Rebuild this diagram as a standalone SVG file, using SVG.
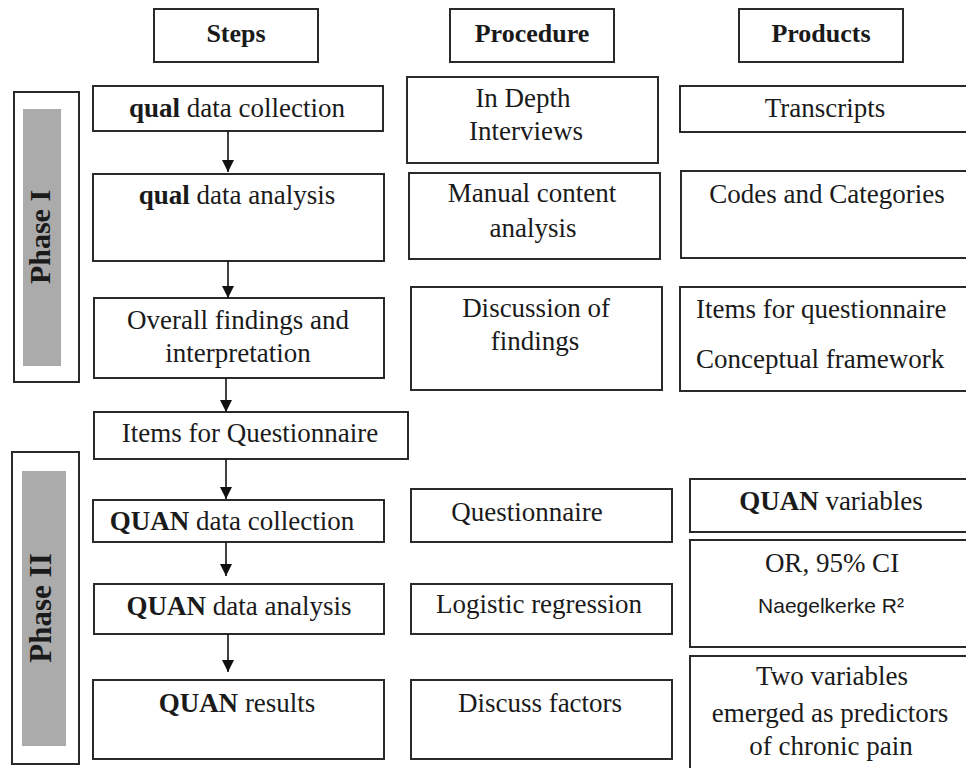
<svg xmlns="http://www.w3.org/2000/svg" width="966" height="768" viewBox="0 0 966 768">
<style>
.box{fill:#fff;stroke:#2a2a2a;stroke-width:2}
.gray{fill:#ababab;stroke:none}
.t{font-family:"Liberation Serif","Times New Roman",serif;font-size:27px;fill:#1a1a1a;text-anchor:middle}
.tl{font-family:"Liberation Serif","Times New Roman",serif;font-size:27px;fill:#1a1a1a}
.h{font-family:"Liberation Serif","Times New Roman",serif;font-size:26px;font-weight:bold;fill:#1a1a1a;text-anchor:middle}
.b{font-weight:bold}
.ph{font-family:"Liberation Serif","Times New Roman",serif;font-weight:bold;fill:#1a1a1a;text-anchor:middle}
.s{font-family:"Liberation Sans",Arial,sans-serif;font-size:21px;fill:#1a1a1a;text-anchor:middle}
.c{stroke:#111;stroke-width:1.6;fill:none}
</style>
<defs>
<marker id="ah" markerWidth="12" markerHeight="12" refX="12" refY="6" orient="auto" markerUnits="userSpaceOnUse">
<path d="M0,0 L12,6 L0,12 Z" fill="#111"/>
</marker>
</defs>
<rect width="966" height="768" fill="#fff"/>

<g id="hdr-steps"><rect class="box" x="154" y="9" width="164" height="53"/><text class="h" x="236" y="42">Steps</text></g>
<g id="hdr-procedure"><rect class="box" x="450" y="9" width="164" height="53"/><text class="h" x="532" y="42">Procedure</text></g>
<g id="hdr-products"><rect class="box" x="739" y="9" width="164" height="53"/><text class="h" x="821" y="42">Products</text></g>

<g id="phase1"><rect class="box" x="14" y="92" width="65" height="290"/><rect class="gray" x="23" y="109" width="38" height="257"/><text class="ph" font-size="30" transform="translate(50,237) rotate(-90)">Phase I</text></g>
<g id="phase2"><rect class="box" x="12" y="452" width="67" height="312"/><rect class="gray" x="22" y="471" width="44" height="275"/><text class="ph" font-size="31" transform="translate(51,608) rotate(-90)">Phase II</text></g>

<g id="step1"><rect class="box" x="93" y="86" width="290" height="45"/><text class="t" x="237" y="117"><tspan class="b">qual</tspan> data collection</text></g>
<g id="step2"><rect class="box" x="93" y="174" width="291" height="87"/><text class="t" x="237" y="204"><tspan class="b">qual</tspan> data analysis</text></g>
<g id="step3"><rect class="box" x="94" y="298" width="290" height="80"/><text class="t" x="238" y="329">Overall findings and</text><text class="t" x="238" y="362">interpretation</text></g>
<g id="step4"><rect class="box" x="94" y="412" width="314" height="47"/><text class="t" x="250" y="442">Items for Questionnaire</text></g>
<g id="step5"><rect class="box" x="93" y="500" width="291" height="42"/><text class="t" x="232" y="530"><tspan class="b">QUAN</tspan> data collection</text></g>
<g id="step6"><rect class="box" x="94" y="584" width="290" height="50"/><text class="t" x="239" y="615"><tspan class="b">QUAN</tspan> data analysis</text></g>
<g id="step7"><rect class="box" x="93" y="680" width="291" height="79"/><text class="t" x="237" y="712"><tspan class="b">QUAN</tspan> results</text></g>

<g id="proc1"><rect class="box" x="407" y="77" width="251" height="86"/><text class="t" x="523" y="107">In Depth</text><text class="t" x="526" y="140">Interviews</text></g>
<g id="proc2"><rect class="box" x="409" y="173" width="251" height="86"/><text class="t" x="532" y="202">Manual content</text><text class="t" x="533" y="237">analysis</text></g>
<g id="proc3"><rect class="box" x="411" y="287" width="251" height="103"/><text class="t" x="536" y="317">Discussion of</text><text class="t" x="535" y="350">findings</text></g>
<g id="proc4"><rect class="box" x="411" y="489" width="261" height="53"/><text class="t" x="527" y="521">Questionnaire</text></g>
<g id="proc5"><rect class="box" x="411" y="584" width="261" height="50"/><text class="t" x="539" y="613">Logistic regression</text></g>
<g id="proc6"><rect class="box" x="411" y="680" width="261" height="79"/><text class="t" x="540" y="712">Discuss factors</text></g>

<g id="prod1"><rect class="box" x="680" y="86" width="300" height="46"/><text class="t" x="825" y="117">Transcripts</text></g>
<g id="prod2"><rect class="box" x="681" y="171" width="300" height="87"/><text class="t" x="827" y="203">Codes and Categories</text></g>
<g id="prod3"><rect class="box" x="680" y="287" width="300" height="104"/><text class="tl" x="696" y="318">Items for questionnaire</text><text class="tl" x="696" y="368">Conceptual framework</text></g>
<g id="prod4"><rect class="box" x="690" y="479" width="300" height="53"/><text class="t" x="831" y="510"><tspan class="b">QUAN</tspan> variables</text></g>
<g id="prod5"><rect class="box" x="690" y="540" width="300" height="107"/><text class="t" x="832" y="572">OR, 95% CI</text><text class="s" x="831" y="613">Naegelkerke R²</text></g>
<g id="prod6"><rect class="box" x="690" y="656" width="300" height="130"/><text class="t" x="832" y="685">Two variables</text><text class="t" x="830" y="722">emerged as predictors</text><text class="t" x="831" y="755">of chronic pain</text></g>

<g id="connectors">
<line class="c" x1="228" y1="131" x2="228" y2="172" marker-end="url(#ah)"/>
<line class="c" x1="228" y1="261" x2="228" y2="298" marker-end="url(#ah)"/>
<line class="c" x1="226" y1="378" x2="226" y2="412" marker-end="url(#ah)"/>
<line class="c" x1="226" y1="459" x2="226" y2="499" marker-end="url(#ah)"/>
<line class="c" x1="226" y1="542" x2="226" y2="576" marker-end="url(#ah)"/>
<line class="c" x1="228" y1="634" x2="228" y2="672" marker-end="url(#ah)"/>
</g>
</svg>
